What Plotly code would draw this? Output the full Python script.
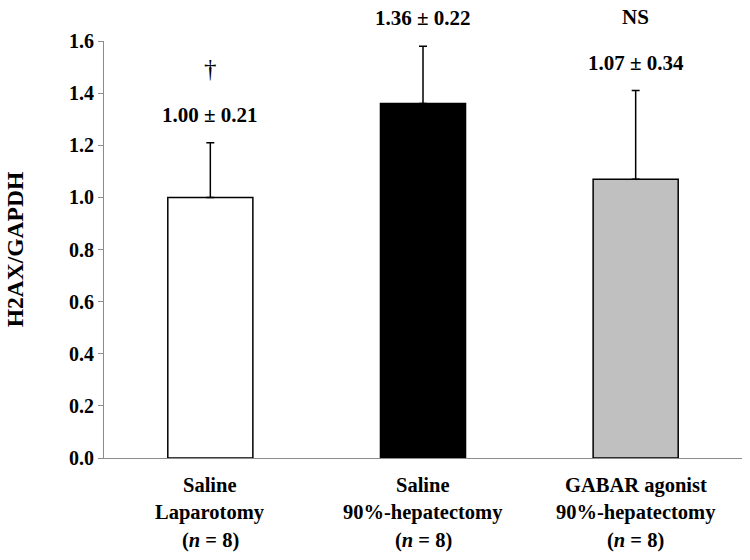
import plotly.graph_objects as go

# Data
groups = ["Saline Laparotomy", "Saline 90%-hepatectomy", "GABAR agonist 90%-hepatectomy"]
label_line1 = ["Saline", "Saline", "GABAR agonist"]
label_line2 = ["Laparotomy", "90%-hepatectomy", "90%-hepatectomy"]
label_line3 = ["(<i>n</i> = 8)", "(<i>n</i> = 8)", "(<i>n</i> = 8)"]
means = [1.00, 1.36, 1.07]
sds = [0.21, 0.22, 0.34]
value_labels = ["1.00 ± 0.21", "1.36 ± 0.22", "1.07 ± 0.34"]
significance = ["†", "", "NS"]
bar_colors = ["#ffffff", "#000000", "#c0c0c0"]
y_ticks = [0.0, 0.2, 0.4, 0.6, 0.8, 1.0, 1.2, 1.4, 1.6]

FONT = "Liberation Serif, Times New Roman, serif"
x = list(range(len(groups)))

fig = go.Figure()
fig.add_trace(go.Bar(
    x=x, y=means, width=0.4,
    marker=dict(color=bar_colors, line=dict(color="black", width=1.5)),
    error_y=dict(type="data", symmetric=False, array=sds, arrayminus=[0]*len(sds),
                 color="black", thickness=1.5, width=4),
    showlegend=False, hoverinfo="skip",
))

annotations = []
for i in x:
    top = means[i] + sds[i]
    annotations.append(dict(x=i, y=top, xref="x", yref="y", text=f"<b>{value_labels[i]}</b>",
                            showarrow=False, yanchor="middle", yshift=28,
                            font=dict(family=FONT, size=21, color="black")))
    if significance[i]:
        is_dagger = significance[i] == "†"
        annotations.append(dict(x=i, y=top, xref="x", yref="y",
                                text=significance[i] if is_dagger else f"<b>{significance[i]}</b>",
                                showarrow=False, yanchor="middle", yshift=74,
                                font=dict(family=FONT, size=25 if is_dagger else 21, color="black")))
    for k, lines in enumerate([label_line1, label_line2, label_line3]):
        annotations.append(dict(x=i, y=0, xref="x", yref="y", text=f"<b>{lines[i]}</b>",
                                showarrow=False, yanchor="middle", yshift=-(27 + 27.5 * k),
                                font=dict(family=FONT, size=20.5, color="black")))

fig.update_layout(
    width=750, height=560,
    margin=dict(l=104, r=8, t=41, b=102),
    plot_bgcolor="white", paper_bgcolor="white",
    font=dict(family=FONT, size=20, color="black"),
    annotations=annotations,
    xaxis=dict(range=[-0.5, 2.5], showticklabels=False, ticks="", showgrid=False,
               showline=True, linecolor="#8c8c8c", linewidth=1, zeroline=False),
    yaxis=dict(range=[0, 1.6], tickvals=y_ticks, ticktext=[f"<b>{v:.1f}</b>" for v in y_ticks],
               ticks="outside", ticklen=5, tickcolor="#8c8c8c", showline=True,
               linecolor="#8c8c8c", linewidth=1, showgrid=False, zeroline=False,
               tickfont=dict(family=FONT, size=20, color="black"),
               title=dict(text="<b>H2AX/GAPDH</b>", font=dict(family=FONT, size=23.5, color="black"),
                          standoff=38)),
)

fig.write_html("out.html", config={"displayModeBar": False},
               post_script="document.body.style.margin='0';")
